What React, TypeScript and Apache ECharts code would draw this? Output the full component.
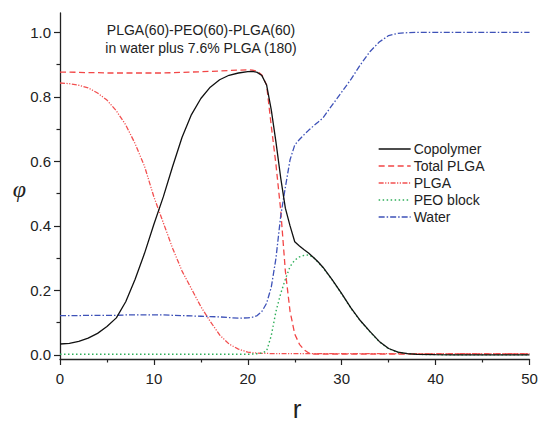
import React, { useEffect, useRef } from "react";
import * as echarts from "echarts";

const rValues = [0, 1, 2, 3, 4, 5, 6, 7, 8, 9, 10, 11, 12, 13, 14, 15, 16, 17, 18, 19, 20, 20.5, 21, 21.5, 22, 22.5, 23, 23.5, 24, 24.5, 25, 25.5, 26, 26.5, 27, 27.5, 28, 29, 30, 31, 32, 33, 34, 35, 36, 37, 38, 40, 42, 45, 50];

const copolymer = [0.034, 0.036, 0.042, 0.052, 0.067, 0.088, 0.115, 0.165, 0.235, 0.315, 0.405, 0.49, 0.585, 0.675, 0.745, 0.795, 0.83, 0.853, 0.867, 0.874, 0.878, 0.879, 0.876, 0.866, 0.837, 0.76, 0.66, 0.55, 0.455, 0.4, 0.351, 0.338, 0.326, 0.315, 0.302, 0.288, 0.272, 0.233, 0.19, 0.145, 0.106, 0.073, 0.042, 0.02, 0.009, 0.004, 0.002, 0.001, 0.0005, 0.0003, 0.0002];

const totalPLGA = [0.877, 0.877, 0.876, 0.875, 0.875, 0.874, 0.874, 0.874, 0.874, 0.874, 0.874, 0.874, 0.875, 0.876, 0.877, 0.878, 0.879, 0.88, 0.882, 0.883, 0.884, 0.883, 0.88, 0.868, 0.837, 0.71, 0.59, 0.45, 0.26, 0.135, 0.065, 0.033, 0.016, 0.006, 0.003, 0.003, 0.003, 0.003, 0.003, 0.003, 0.003, 0.003, 0.003, 0.003, 0.003, 0.003, 0.003, 0.003, 0.003, 0.003, 0.003];

const plga = [0.843, 0.841, 0.836, 0.828, 0.812, 0.79, 0.757, 0.713, 0.655, 0.585, 0.49, 0.41, 0.33, 0.26, 0.205, 0.15, 0.104, 0.062, 0.034, 0.018, 0.009, 0.007, 0.006, 0.005, 0.005, 0.004, 0.004, 0.004, 0.004, 0.004, 0.004, 0.004, 0.004, 0.004, 0.004, 0.004, 0.004, 0.004, 0.004, 0.004, 0.004, 0.004, 0.004, 0.004, 0.004, 0.004, 0.004, 0.004, 0.004, 0.004, 0.004];

const peoBlock = [0.002, 0.002, 0.002, 0.002, 0.002, 0.002, 0.002, 0.002, 0.002, 0.002, 0.002, 0.002, 0.002, 0.002, 0.002, 0.002, 0.002, 0.002, 0.002, 0.002, 0.002, 0.003, 0.004, 0.006, 0.012, 0.06, 0.135, 0.19, 0.235, 0.274, 0.294, 0.304, 0.309, 0.31, 0.302, 0.287, 0.271, 0.232, 0.189, 0.144, 0.105, 0.072, 0.041, 0.019, 0.008, 0.004, 0.002, 0.001, 0.0005, 0.0003, 0.0002];

const water = [0.122, 0.122, 0.122, 0.123, 0.123, 0.123, 0.123, 0.124, 0.124, 0.124, 0.124, 0.124, 0.123, 0.122, 0.121, 0.12, 0.119, 0.118, 0.116, 0.114, 0.115, 0.117, 0.122, 0.135, 0.16, 0.21, 0.3, 0.43, 0.52, 0.605, 0.651, 0.668, 0.683, 0.697, 0.71, 0.722, 0.735, 0.775, 0.815, 0.855, 0.9, 0.94, 0.97, 0.99, 0.997, 0.999, 1.0, 1.0, 1.0, 1.0, 1.0];

const seriesNames = ["Copolymer", "Total PLGA", "PLGA", "PEO block", "Water"];
const yMajorTicks = [0, 0.2, 0.4, 0.6, 0.8, 1.0];
const yMinorTicks = [0.1, 0.3, 0.5, 0.7, 0.9];
const titleLines = ["PLGA(60)-PEO(60)-PLGA(60)", "in water plus 7.6% PLGA (180)"];

const FONT = "Liberation Sans, Arial, sans-serif";
const AXIS_COLOR = "#222";

function pairs(ys: number[]) {
  return rValues.map((r, i) => [r, ys[i]]);
}

export default function App() {
  const ref = useRef<HTMLDivElement>(null);
  useEffect(() => {
    if (!ref.current) return;
    const chart = echarts.init(ref.current, undefined, { renderer: "svg" });
    const mk = (name: string, data: number[], color: string, type: any, width = 1.3) => ({
      name,
      type: "line",
      data: pairs(data),
      symbol: "none",
      showSymbol: false,
      smooth: false,
      lineStyle: { color, width, type },
      itemStyle: { color },
    });
    const yBase = {
      type: "value",
      min: -0.0125,
      max: 1.06,
      position: "left",
      splitLine: { show: false },
    };
    chart.setOption({
      animation: false,
      backgroundColor: "#fff",
      grid: { left: 60, right: 11.5, top: 13, bottom: 64, containLabel: false },
      xAxis: {
        type: "value",
        min: 0,
        max: 50,
        interval: 10,
        axisLine: { show: true, onZero: false, lineStyle: { color: AXIS_COLOR, width: 1.3 } },
        axisTick: { show: true, inside: false, length: 6, lineStyle: { color: AXIS_COLOR, width: 1.2 } },
        minorTick: { show: true, splitNumber: 2, length: 3.5, lineStyle: { color: AXIS_COLOR, width: 1.2 } },
        splitLine: { show: false },
        axisLabel: { fontSize: 15, color: AXIS_COLOR, fontFamily: FONT, margin: 12 },
      },
      yAxis: [
        {
          ...yBase,
          axisLine: { show: true, lineStyle: { color: AXIS_COLOR, width: 1.3 } },
          axisTick: { show: true, inside: false, length: 6, customValues: yMajorTicks, lineStyle: { color: AXIS_COLOR, width: 1.2 } },
          axisLabel: {
            fontSize: 15,
            color: AXIS_COLOR,
            fontFamily: FONT,
            margin: 9,
            customValues: yMajorTicks,
            formatter: (v: number) => v.toFixed(1),
          },
        },
        {
          ...yBase,
          axisLine: { show: false },
          axisTick: { show: true, inside: false, length: 3.5, customValues: yMinorTicks, lineStyle: { color: AXIS_COLOR, width: 1.2 } },
          axisLabel: { show: false },
        },
      ],
      legend: {
        orient: "vertical",
        left: 373,
        top: 137,
        itemWidth: 32,
        itemHeight: 14,
        itemGap: 3,
        data: seriesNames,
        itemStyle: { opacity: 0 },
        lineStyle: { width: 1.3 },
        textStyle: { fontSize: 14, color: AXIS_COLOR, fontFamily: FONT, padding: [0, 0, 0, -2] },
      },
      series: [
        mk(seriesNames[1], totalPLGA, "#f24646", [6, 3.5]),
        mk(seriesNames[2], plga, "#f25050", [5, 1.5, 1.2, 1.5, 1.2, 1.5]),
        mk(seriesNames[3], peoBlock, "#2fae5a", [1.5, 2.5], 1.4),
        mk(seriesNames[4], water, "#3e52b8", [6, 2, 1.5, 2]),
        mk(seriesNames[0], copolymer, "#111111", "solid", 1.3),
      ],
      graphic: [
        {
          type: "text",
          x: 201,
          y: 30,
          style: { text: titleLines[0], fontSize: 14, fontFamily: FONT, fill: AXIS_COLOR, align: "center", verticalAlign: "middle" },
        },
        {
          type: "text",
          x: 201,
          y: 47.5,
          style: { text: titleLines[1], fontSize: 14, fontFamily: FONT, fill: AXIS_COLOR, align: "center", verticalAlign: "middle" },
        },
        {
          type: "text",
          x: 19.5,
          y: 189,
          style: { text: "φ", fontSize: 24, fontStyle: "italic", fontFamily: "Liberation Serif, Times New Roman, serif", fill: AXIS_COLOR, align: "center", verticalAlign: "middle" },
        },
        {
          type: "text",
          x: 297,
          y: 409,
          style: { text: "r", fontSize: 26, fontFamily: FONT, fill: AXIS_COLOR, align: "center", verticalAlign: "middle" },
        },
      ],
    });
    return () => chart.dispose();
  }, []);
  return <div ref={ref} style={{ width: 541, height: 423, position: "absolute", left: 0, top: 0 }} />;
}
